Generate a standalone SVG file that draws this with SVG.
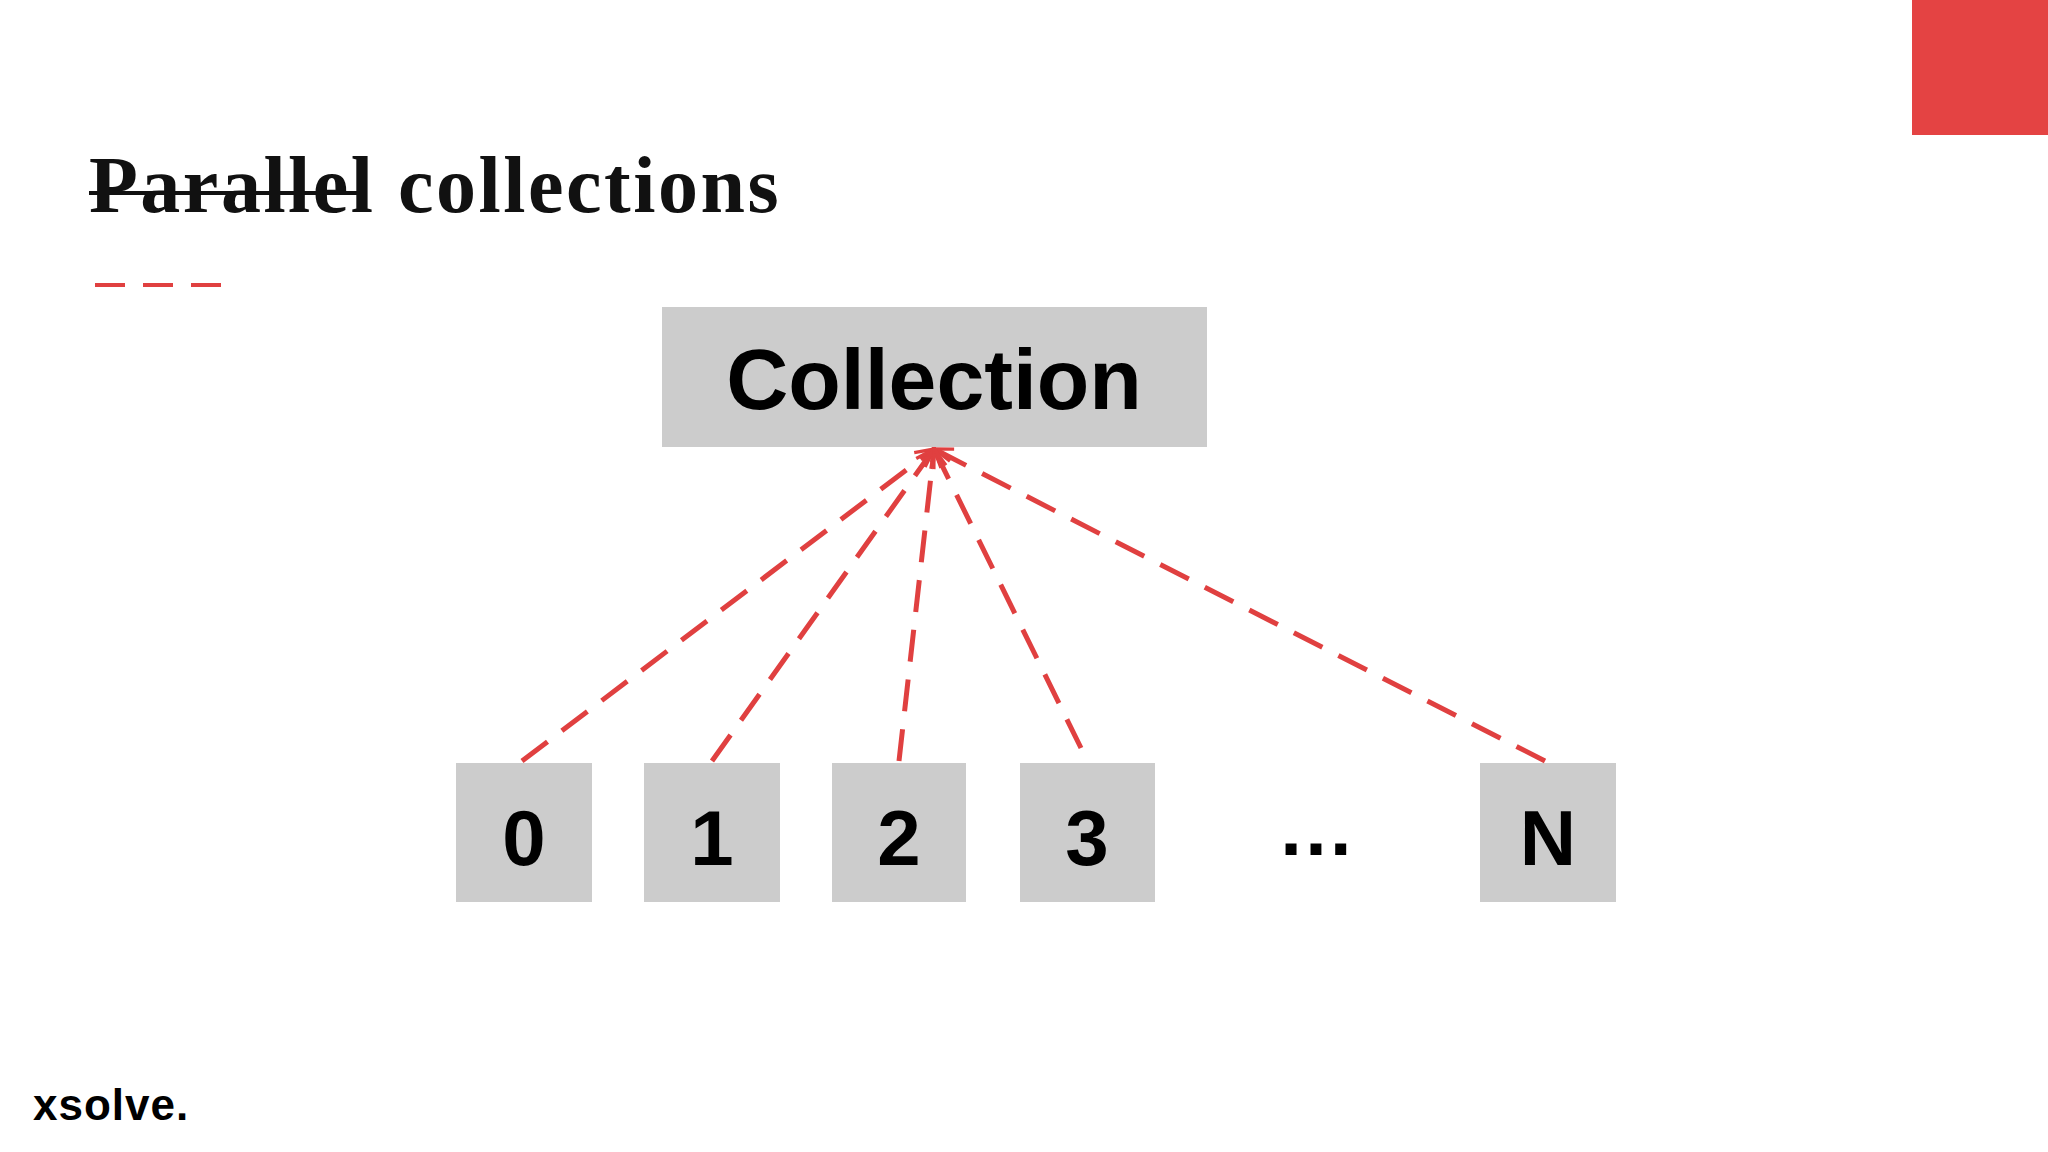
<svg xmlns="http://www.w3.org/2000/svg" width="2048" height="1152" viewBox="0 0 2048 1152">
<defs>
<style>
.box{fill:#cccccc}
.lbl{font-family:"Liberation Sans",Arial,sans-serif;font-weight:bold;fill:#000;text-anchor:middle}
.con{stroke:#e04040;stroke-width:5;fill:none;stroke-dasharray:32 18}
</style>
<marker id="ah" viewBox="0 0 20 20" refX="18" refY="10" markerWidth="4.5" markerHeight="4.5" orient="auto" markerUnits="strokeWidth">
<path d="M2,2 L18,10 L2,18" fill="none" stroke="#e04040" stroke-width="3"/>
</marker>
</defs>
<rect width="2048" height="1152" fill="#fff"/>
<rect x="1912" y="0" width="136" height="135" fill="#e44343"/>
<text x="89" y="212" font-family="'Liberation Serif',serif" font-weight="bold" font-size="80" letter-spacing="2.5" fill="#111">Parallel collections</text>
<line x1="89" y1="193" x2="363" y2="193" stroke="#111" stroke-width="4"/>
<line x1="95" y1="285" x2="225" y2="285" stroke="#e04040" stroke-width="4" stroke-dasharray="30 18"/>
<g id="collection"><rect class="box" x="662" y="307" width="545" height="140"/><text class="lbl" x="934" y="409" font-size="86">Collection</text></g>
<g id="n0"><rect class="box" x="456" y="763" width="136" height="139"/><text class="lbl" x="524" y="865" font-size="78">0</text></g>
<g id="n1"><rect class="box" x="644" y="763" width="136" height="139"/><text class="lbl" x="712" y="865" font-size="78">1</text></g>
<g id="n2"><rect class="box" x="832" y="763" width="134" height="139"/><text class="lbl" x="899" y="865" font-size="78">2</text></g>
<g id="n3"><rect class="box" x="1020" y="763" width="135" height="139"/><text class="lbl" x="1087" y="865" font-size="78">3</text></g>
<g id="dots"><text class="lbl" x="1316" y="855" font-size="78">…</text></g>
<g id="nN"><rect class="box" x="1480" y="763" width="136" height="139"/><text class="lbl" x="1548" y="865" font-size="78">N</text></g>
<g id="connectors">
<line class="con" x1="522" y1="761" x2="934" y2="449" marker-end="url(#ah)"/>
<line class="con" x1="712" y1="761" x2="934" y2="449" marker-end="url(#ah)"/>
<line class="con" x1="899" y1="761" x2="934" y2="449" marker-end="url(#ah)"/>
<line class="con" x1="1081" y1="748" x2="934" y2="449" marker-end="url(#ah)"/>
<line class="con" x1="1545" y1="761" x2="934" y2="449" marker-end="url(#ah)"/>
</g>
<text x="33" y="1120" font-family="'Liberation Sans',Arial,sans-serif" font-weight="bold" font-size="44" letter-spacing="1" fill="#000">xsolve.</text>
</svg>
